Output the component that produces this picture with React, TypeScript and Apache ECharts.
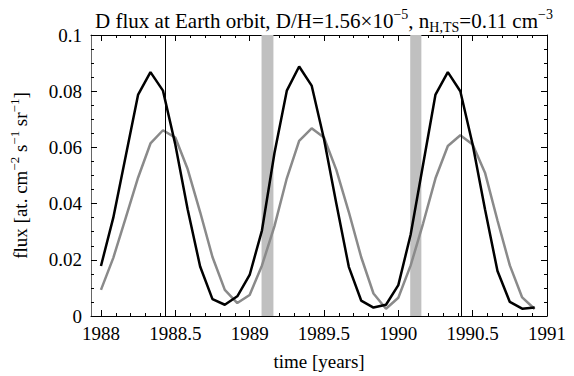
import React, { useEffect, useRef } from "react";
import * as echarts from "echarts";

const years = [
  1988.0, 1988.083, 1988.167, 1988.25, 1988.333, 1988.417, 1988.5, 1988.583, 1988.667, 1988.75, 1988.833, 1988.917,
  1989.0, 1989.083, 1989.167, 1989.25, 1989.333, 1989.417, 1989.5, 1989.583, 1989.667, 1989.75, 1989.833, 1989.917,
  1990.0, 1990.083, 1990.167, 1990.25, 1990.333, 1990.417, 1990.5, 1990.583, 1990.667, 1990.75, 1990.833, 1990.917,
];

const fluxBlack = [
  0.0178, 0.035, 0.057, 0.0788, 0.0868, 0.0802, 0.061, 0.038, 0.0176, 0.006, 0.004, 0.007,
  0.0146, 0.0305, 0.058, 0.0802, 0.0888, 0.082, 0.063, 0.04, 0.0175, 0.0055, 0.003, 0.004,
  0.011, 0.029, 0.054, 0.0788, 0.0868, 0.08, 0.061, 0.038, 0.016, 0.005, 0.0026, 0.003,
];

const fluxGray = [
  0.0093, 0.0207, 0.035, 0.0493, 0.0614, 0.0661, 0.0635, 0.0523, 0.037, 0.021, 0.0093, 0.0046,
  0.0075, 0.018, 0.032, 0.049, 0.0623, 0.0668, 0.0635, 0.052, 0.037, 0.021, 0.008, 0.0026,
  0.0065, 0.018, 0.033, 0.049, 0.0605, 0.0643, 0.061, 0.051, 0.034, 0.018, 0.0066, 0.0025,
];

const verticalLines = [1988.43, 1990.42];
const grayBands = [
  [1989.08, 1989.16],
  [1990.08, 1990.155],
];

const xLabelValues = [1988, 1988.5, 1989, 1989.5, 1990, 1990.5, 1991];
const xMinorValues = [
  1988.1, 1988.2, 1988.3, 1988.4, 1988.6, 1988.7, 1988.8, 1988.9,
  1989.1, 1989.2, 1989.3, 1989.4, 1989.6, 1989.7, 1989.8, 1989.9,
  1990.1, 1990.2, 1990.3, 1990.4, 1990.6, 1990.7, 1990.8, 1990.9,
];

const X_MIN = 1987.933;
const X_MAX = 1991.0;
const FONT = "Liberation Serif";

export default function App() {
  const ref = useRef<HTMLDivElement>(null);
  useEffect(() => {
    if (!ref.current) return;
    const chart = echarts.init(ref.current, null, { renderer: "svg" });
    const baseX = {
      type: "value",
      min: X_MIN,
      max: X_MAX,
      splitLine: { show: false },
    };
    const axisLineBlack = { show: true, lineStyle: { color: "#000", width: 1 } };
    const labelStyle = { fontFamily: FONT, fontSize: 19, color: "#000", fontWeight: "normal" };
    const option: any = {
      animation: false,
      backgroundColor: "#fff",
      textStyle: { fontFamily: FONT, color: "#000" },
      title: {
        left: 319,
        top: 2,
        textAlign: "center",
        text: "{n|D flux at Earth orbit, D/H=1.56×10}{sup|−5}{n|, n}{sub|H,TS}{n|=0.11 cm}{sup|−3}",
        textStyle: {
          fontFamily: FONT,
          fontWeight: "normal",
          rich: {
            n: { fontFamily: FONT, fontWeight: "normal", fontSize: 21, color: "#000", lineHeight: 27 },
            sup: { fontFamily: FONT, fontWeight: "normal", fontSize: 14, color: "#000", lineHeight: 15, verticalAlign: "top" },
            sub: { fontFamily: FONT, fontWeight: "normal", fontSize: 14, color: "#000", lineHeight: 13, verticalAlign: "bottom" },
          },
        },
      },
      grid: { left: 89, right: 27, top: 35, bottom: 58, containLabel: false },
      xAxis: [
        {
          ...baseX,
          position: "bottom",
          axisLine: axisLineBlack,
          axisTick: { show: true, inside: true, length: 6, customValues: xLabelValues, lineStyle: { color: "#000" } },
          axisLabel: {
            show: true,
            customValues: xLabelValues,
            ...labelStyle,
            margin: 8,
            formatter: (v: number) => String(+v.toFixed(1)),
          },
          name: "time [years]",
          nameLocation: "middle",
          nameGap: 36,
          nameTextStyle: { ...labelStyle },
        },
        {
          ...baseX,
          position: "bottom",
          axisLine: { show: false },
          axisTick: { show: true, inside: true, length: 3, customValues: xMinorValues, lineStyle: { color: "#000" } },
          axisLabel: { show: false },
        },
        {
          ...baseX,
          position: "top",
          axisLine: axisLineBlack,
          axisTick: { show: true, inside: true, length: 6, customValues: xLabelValues, lineStyle: { color: "#000" } },
          axisLabel: { show: false },
        },
        {
          ...baseX,
          position: "top",
          axisLine: { show: false },
          axisTick: { show: true, inside: true, length: 3, customValues: xMinorValues, lineStyle: { color: "#000" } },
          axisLabel: { show: false },
        },
      ],
      yAxis: [
        {
          type: "value",
          position: "left",
          min: 0,
          max: 0.1,
          interval: 0.02,
          splitLine: { show: false },
          axisLine: { show: true, lineStyle: { color: "#666", width: 1 } },
          axisTick: { show: true, inside: true, length: 6, lineStyle: { color: "#000" } },
          minorTick: { show: true, splitNumber: 4, length: 3, lineStyle: { color: "#000" } },
          axisLabel: {
            ...labelStyle,
            margin: 9,
            formatter: (v: number) => String(+v.toFixed(2)),
          },
          name: "{n|flux [at. cm}{sup|−2}{n| s}{sup|−1}{n| sr}{sup|−1}{n|]}",
          nameLocation: "middle",
          nameGap: 58,
          nameTextStyle: {
            fontFamily: FONT,
            rich: {
              n: { fontFamily: FONT, fontSize: 19, color: "#000", lineHeight: 25 },
              sup: { fontFamily: FONT, fontSize: 13, color: "#000", lineHeight: 14, verticalAlign: "top" },
            },
          },
        },
        {
          type: "value",
          position: "right",
          min: 0,
          max: 0.1,
          interval: 0.02,
          splitLine: { show: false },
          axisLine: axisLineBlack,
          axisTick: { show: true, inside: true, length: 6, lineStyle: { color: "#000" } },
          minorTick: { show: true, splitNumber: 4, length: 3, lineStyle: { color: "#000" } },
          axisLabel: { show: false },
        },
      ],
      series: [
        {
          type: "line",
          name: "bands",
          xAxisIndex: 0,
          yAxisIndex: 0,
          data: [],
          z: 1,
          markArea: {
            silent: true,
            itemStyle: { color: "#c0c0c0" },
            data: grayBands.map((b) => [{ xAxis: b[0] }, { xAxis: b[1] }]),
          },
          markLine: {
            silent: true,
            symbol: ["none", "none"],
            label: { show: false },
            lineStyle: { color: "#000", width: 1, type: "solid" },
            data: verticalLines.map((x) => ({ xAxis: x })),
          },
        },
        {
          type: "line",
          name: "gray",
          xAxisIndex: 0,
          yAxisIndex: 0,
          showSymbol: false,
          z: 3,
          lineStyle: { color: "#8a8a8a", width: 2.5 },
          data: years.map((x, i) => [x, fluxGray[i]]),
        },
        {
          type: "line",
          name: "black",
          xAxisIndex: 0,
          yAxisIndex: 0,
          showSymbol: false,
          z: 4,
          lineStyle: { color: "#000", width: 2.5 },
          data: years.map((x, i) => [x, fluxBlack[i]]),
        },
      ],
    };
    chart.setOption(option);
    return () => chart.dispose();
  }, []);
  return <div ref={ref} style={{ width: 574, height: 376, position: "absolute", left: 0, top: 0 }} />;
}
